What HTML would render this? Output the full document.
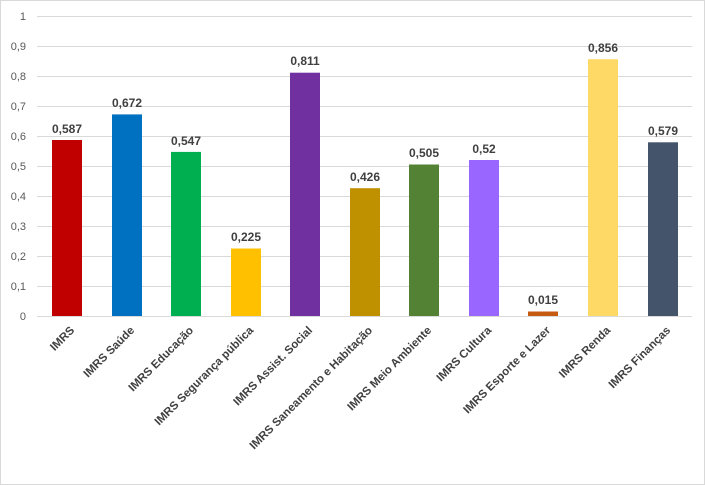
<!DOCTYPE html>
<html><head><meta charset="utf-8"><style>body{margin:0;background:#fff}svg{display:block}</style></head>
<body>
<svg width="705" height="485" xmlns="http://www.w3.org/2000/svg" font-family="Liberation Sans, sans-serif">
<rect x="0.5" y="0.5" width="704" height="484" fill="#fff" stroke="#d9d9d9"/>
<g stroke="#d9d9d9" stroke-width="1">
<line x1="37" x2="692" y1="16.5" y2="16.5"/><line x1="37" x2="692" y1="46.5" y2="46.5"/>
<line x1="37" x2="692" y1="76.5" y2="76.5"/><line x1="37" x2="692" y1="106.5" y2="106.5"/>
<line x1="37" x2="692" y1="136.5" y2="136.5"/><line x1="37" x2="692" y1="166.5" y2="166.5"/>
<line x1="37" x2="692" y1="196.5" y2="196.5"/><line x1="37" x2="692" y1="226.5" y2="226.5"/>
<line x1="37" x2="692" y1="256.5" y2="256.5"/><line x1="37" x2="692" y1="286.5" y2="286.5"/>
<line x1="37" x2="692" y1="316.5" y2="316.5"/>
</g>
<g font-size="11" fill="#595959" text-anchor="end">
<text x="26" y="20">1</text><text x="26" y="50">0,9</text><text x="26" y="80">0,8</text>
<text x="26" y="110">0,7</text><text x="26" y="140">0,6</text><text x="26" y="170">0,5</text>
<text x="26" y="200">0,4</text><text x="26" y="230">0,3</text><text x="26" y="260">0,2</text>
<text x="26" y="290">0,1</text><text x="26" y="320">0</text>
</g>
<g>
<rect x="52" y="140" width="30" height="176" fill="#c00000"/>
<rect x="112" y="114.4" width="30" height="201.6" fill="#0070c0"/>
<rect x="171" y="151.9" width="30" height="164.1" fill="#00b050"/>
<rect x="231" y="248.5" width="30" height="67.5" fill="#ffc000"/>
<rect x="290" y="72.7" width="30" height="243.3" fill="#7030a0"/>
<rect x="350" y="188.2" width="30" height="127.8" fill="#bf9000"/>
<rect x="409" y="164.5" width="30" height="151.5" fill="#548235"/>
<rect x="469" y="160" width="30" height="156" fill="#9966ff"/>
<rect x="528" y="311.5" width="30" height="4.5" fill="#c55a11"/>
<rect x="588" y="59.2" width="30" height="256.8" fill="#ffd966"/>
<rect x="648" y="142.3" width="30" height="173.7" fill="#44546a"/>
</g>
<g font-size="12" font-weight="bold" fill="#404040" text-anchor="middle">
<text x="67" y="133">0,587</text><text x="127" y="107">0,672</text><text x="186" y="145">0,547</text>
<text x="246" y="241">0,225</text><text x="305" y="65">0,811</text><text x="365" y="181">0,426</text>
<text x="424" y="157">0,505</text><text x="484" y="153">0,52</text><text x="543" y="304">0,015</text>
<text x="603" y="52">0,856</text><text x="663" y="135">0,579</text>
</g>
<g font-size="11.5" font-weight="bold" fill="#404040" text-anchor="end">
<text transform="translate(75,331) rotate(-45)">IMRS</text>
<text transform="translate(135,331) rotate(-45)">IMRS Saúde</text>
<text transform="translate(194,331) rotate(-45)">IMRS Educação</text>
<text transform="translate(254,331) rotate(-45)">IMRS Segurança pública</text>
<text transform="translate(313,331) rotate(-45)">IMRS Assist. Social</text>
<text transform="translate(373,331) rotate(-45)">IMRS Saneamento e Habitação</text>
<text transform="translate(432,331) rotate(-45)">IMRS Meio Ambiente</text>
<text transform="translate(492,331) rotate(-45)">IMRS Cultura</text>
<text transform="translate(551,331) rotate(-45)">IMRS Esporte e Lazer</text>
<text transform="translate(611,331) rotate(-45)">IMRS Renda</text>
<text transform="translate(671,331) rotate(-45)">IMRS Finanças</text>
</g>
</svg>
</body></html>
